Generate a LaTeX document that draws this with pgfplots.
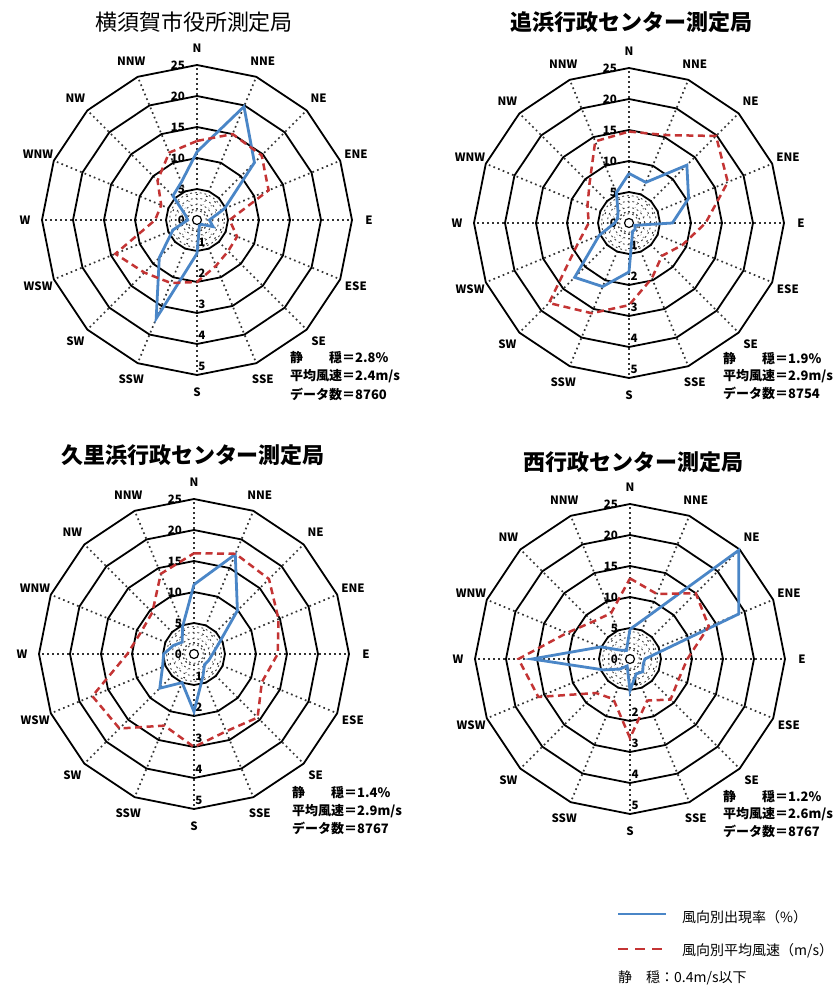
\documentclass[border=0pt]{standalone}
\usepackage{pgfplots}
\usepackage{pgfplotstable}
\pgfplotsset{compat=1.18}
\usepackage{fontspec}
\setmainfont{Noto Sans CJK JP}

\definecolor{rateblue}{RGB}{74,134,199}
\definecolor{speedred}{RGB}{196,52,52}

% k: direction index (0 = N, clockwise, 16 closes the loop)
% pct: frequency of the direction (%), spd: mean wind speed (m/s)
\pgfplotstableread{
k dir pct spd
0 N 11.0 2.55
1 NNE 19.8 3.00
2 NE 13.1 2.95
3 ENE 4.8 2.50
4 E 2.0 1.05
5 ESE 2.8 1.40
6 SE 1.0 1.42
7 SSE 1.0 1.60
8 S 5.4 2.00
9 SSW 17.2 2.20
10 SW 8.6 2.40
11 WSW 4.2 2.85
12 W 1.5 1.35
13 WNW 2.0 1.25
14 NW 5.5 1.80
15 NNW 6.6 2.35
16 N 11.0 2.55
}\yokosuka

\pgfplotstableread{
k dir pct spd
0 N 8.0 2.95
1 NNE 7.1 3.07
2 NE 13.2 3.97
3 ENE 10.4 3.45
4 E 7.0 2.47
5 ESE 1.0 1.86
6 SE 1.4 1.50
7 SSE 1.5 1.93
8 S 7.9 2.65
9 SSW 11.1 3.15
10 SW 12.4 3.65
11 WSW 5.2 1.80
12 W 2.3 1.30
13 WNW 2.0 1.45
14 NW 2.5 1.80
15 NNW 5.3 2.85
16 N 8.0 2.95
}\oppama

\pgfplotstableread{
k dir pct spd
0 N 11.2 3.25
1 NNE 17.4 3.50
2 NE 9.9 3.42
3 ENE 4.3 2.95
4 E 3.0 2.70
5 ESE 2.6 2.37
6 SE 2.4 2.90
7 SSE 3.8 2.70
8 S 9.3 3.00
9 SSW 5.0 2.50
10 SW 7.8 3.40
11 WSW 5.5 3.55
12 W 4.9 2.15
13 WNW 3.6 1.85
14 NW 2.7 1.90
15 NNW 4.8 2.80
16 N 11.2 3.25
}\kurihama

\pgfplotstableread{
k dir pct spd
0 N 4.8 2.60
1 NNE 7.4 2.27
2 NE 24.8 3.00
3 ENE 19.0 2.75
4 E 2.4 1.85
5 ESE 2.3 1.70
6 SE 2.9 1.85
7 SSE 2.6 1.45
8 S 5.1 2.55
9 SSW 1.2 1.40
10 SW 2.3 1.55
11 WSW 4.6 3.20
12 W 15.8 3.60
13 WNW 5.1 2.20
14 NW 2.0 1.70
15 NNW 1.5 1.60
16 N 4.8 2.60
}\nishi

\tikzset{
  spoke/.style={line width=1.7pt, dash pattern=on 1.7pt off 3.3pt, black!80},
  innerring/.style={line width=0.9pt, dash pattern=on 1.8pt off 3pt, black!75},
  ring/.style={line width=1.8pt, black, line join=miter},
  dirlabel/.style={font=\bfseries\fontsize{11.5}{13}\selectfont, inner sep=0pt},
  numlabel/.style={font=\bfseries\fontsize{11.5}{13}\selectfont, inner sep=0pt},
  stat/.style={font=\bfseries\fontsize{13}{15}\selectfont, inner sep=0pt, anchor=west},
}

\pgfplotsset{
  rose/.style={x=6.2pt, y=6.2pt, xmin=-30, xmax=30, ymin=-30, ymax=30,
    hide axis, clip=false, anchor=center},
  rate/.style={rateblue, line width=2.8pt, line join=miter, data cs=polar},
  speed/.style={speedred, line width=2.5pt, dash pattern=on 7pt off 4.5pt, data cs=polar},
}

% polar grid: dotted spokes, dotted inner circles, solid 16-sided rings, labels
\newcommand{\rosegrid}[1]{%
  \begin{scope}[shift={#1}]
    \foreach \a in {0,...,15}{\draw[spoke] (90-22.5*\a:10) -- (90-22.5*\a:155);}
    \foreach \r in {9.3,15.5,21.7,27.4}{\draw[white, line width=2.2pt] (0,0) circle[radius=\r];}
    \foreach \r in {9.3,15.5,21.7,27.4}{\draw[innerring] (0,0) circle[radius=\r];}
    \draw[line width=1.2pt] (0,0) circle[radius=4.5];
    \foreach \r in {31,62,93,124,155}{%
      \draw[ring] (90:\r) \foreach \a in {1,...,15}{-- (90-22.5*\a:\r)} -- cycle;}
    \foreach \d [count=\i from 0] in {N,NNE,NE,ENE,E,ESE,SE,SSE,S,SSW,SW,WSW,W,WNW,NW,NNW}{%
      \node[dirlabel] at (90-22.5*\i:172) {\d};}
    \foreach \v/\r in {0/0,5/31,10/62,15/93,20/124,25/155}{%
      \node[numlabel, anchor=east] at (-12,\r) {\v};}
    \foreach \s in {1,...,5}{\node[numlabel] at (5,{9-31*\s}) {\s};}
  \end{scope}}

\begin{document}
\begin{tikzpicture}[x=1pt, y=1pt]
  \fill[white] (0,0) rectangle (837,-994);

  \rosegrid{(197,-220)}
  \rosegrid{(629,-223)}
  \rosegrid{(194,-654)}
  \rosegrid{(630,-659)}

  \begin{axis}[rose, at={(197pt,-220pt)}]
    \addplot[rate] table[x expr={90-22.5*\thisrow{k}}, y=pct] {\yokosuka};
    \addplot[speed] table[x expr={90-22.5*\thisrow{k}}, y expr={5*\thisrow{spd}}] {\yokosuka};
  \end{axis}
  \begin{axis}[rose, at={(629pt,-223pt)}]
    \addplot[rate] table[x expr={90-22.5*\thisrow{k}}, y=pct] {\oppama};
    \addplot[speed] table[x expr={90-22.5*\thisrow{k}}, y expr={5*\thisrow{spd}}] {\oppama};
  \end{axis}
  \begin{axis}[rose, at={(194pt,-654pt)}]
    \addplot[rate] table[x expr={90-22.5*\thisrow{k}}, y=pct] {\kurihama};
    \addplot[speed] table[x expr={90-22.5*\thisrow{k}}, y expr={5*\thisrow{spd}}] {\kurihama};
  \end{axis}
  \begin{axis}[rose, at={(630pt,-659pt)}]
    \addplot[rate] table[x expr={90-22.5*\thisrow{k}}, y=pct] {\nishi};
    \addplot[speed] table[x expr={90-22.5*\thisrow{k}}, y expr={5*\thisrow{spd}}] {\nishi};
  \end{axis}

  % station names
  \node[font=\fontsize{22}{26}\selectfont] at (194,-22) {横須賀市役所測定局};
  \node[font=\bfseries\fontsize{22}{26}\selectfont] at (631,-22) {追浜行政センター測定局};
  \node[font=\bfseries\fontsize{22}{26}\selectfont] at (193,-455) {久里浜行政センター測定局};
  \node[font=\bfseries\fontsize{22}{26}\selectfont] at (633,-462) {西行政センター測定局};

  % summary figures
  \node[stat] at (290,-358) {静　　穏＝2.8\%};
  \node[stat] at (290,-376) {平均風速＝2.4m/s};
  \node[stat] at (290,-394) {データ数＝8760};

  \node[stat] at (723,-359) {静　　穏＝1.9\%};
  \node[stat] at (723,-376) {平均風速＝2.9m/s};
  \node[stat] at (723,-393) {データ数＝8754};

  \node[stat] at (292,-793) {静　　穏＝1.4\%};
  \node[stat] at (292,-811) {平均風速＝2.9m/s};
  \node[stat] at (292,-828) {データ数＝8767};

  \node[stat] at (723,-797) {静　　穏＝1.2\%};
  \node[stat] at (723,-814) {平均風速＝2.6m/s};
  \node[stat] at (723,-831) {データ数＝8767};

  % key
  \draw[rateblue, line width=2.6pt] (618,-914) -- (666,-914);
  \node[anchor=west, inner sep=0pt, font=\fontsize{14}{16}\selectfont] at (682,-917) {風向別出現率（\%）};
  \draw[speedred, line width=2.4pt, dash pattern=on 10pt off 7pt] (618,-949) -- (666,-949);
  \node[anchor=west, inner sep=0pt, font=\fontsize{14}{16}\selectfont] at (682,-951) {風向別平均風速（m/s）};
  \node[anchor=west, inner sep=0pt, font=\fontsize{14}{16}\selectfont] at (618,-978) {静　穏：0.4m/s以下};

  \pgfresetboundingbox
  \path[use as bounding box] (0,0) rectangle (837,-994);
\end{tikzpicture}
\end{document}
